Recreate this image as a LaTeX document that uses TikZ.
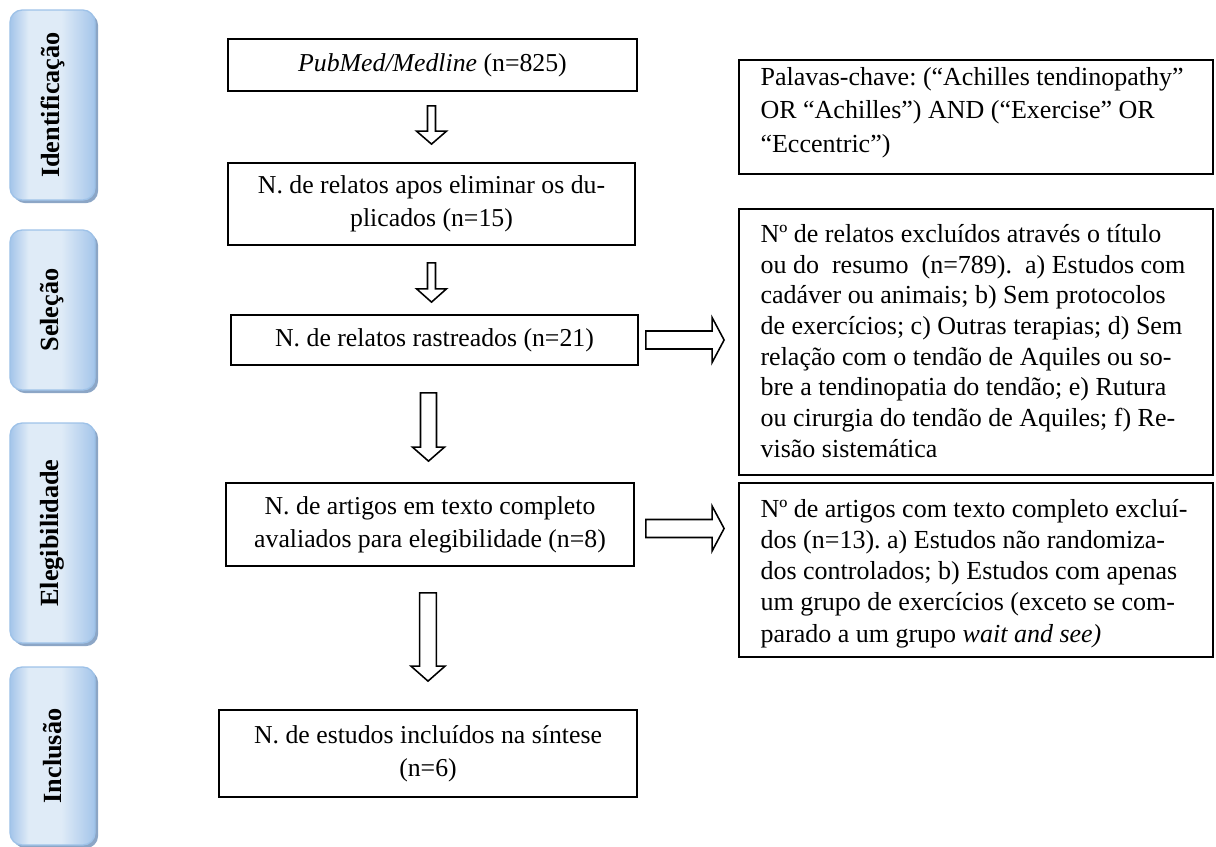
\documentclass[tikz,border=0pt]{standalone}
\usepackage{fontspec}
\setmainfont{Liberation Serif}
\usetikzlibrary{calc,shadows}
\definecolor{sa}{HTML}{A4C5EA}
\definecolor{sb}{HTML}{DFEBF7}
\definecolor{sbord}{HTML}{9EC2E8}
\definecolor{sshadow}{HTML}{8CA6C6}
\pgfdeclarehorizontalshading{sideshade}{100bp}{color(0bp)=(sa); color(25bp)=(sa); color(36bp)=(sb); color(55bp)=(sb); color(75bp)=(sa); color(100bp)=(sa)}
\newcommand\blockdown[5]{%
  \path[blockarrow] let \p1=#1, \p2=#2 in
    (\x1-#3,\y1) -- (\x1+#3,\y1) -- (\x1+#3,\y2+#5) -- (\x1+#4,\y2+#5) --
    (\x1,\y2) -- (\x1-#4,\y2+#5) -- (\x1-#3,\y2+#5) -- cycle;}
\newcommand\blockright[5]{%
  \path[blockarrow] let \p1=#1, \p2=#2 in
    (\x1,\y1+#3) -- (\x2-#5,\y1+#3) -- (\x2-#5,\y1+#4) -- (\x2,\y1) --
    (\x2-#5,\y1-#4) -- (\x2-#5,\y1-#3) -- (\x1,\y1-#3) -- cycle;}
\tikzset{
  mainbox/.style={draw=black, line width=0.8pt, fill=white, inner sep=0pt, align=center,
    font=\fontsize{11.6pt}{14.85pt}\selectfont\frenchspacing},
  exbox/.style={draw=black, line width=0.8pt, fill=white, inner sep=0pt, minimum width=213.3pt},
  extext/.style={anchor=north west, inner sep=0pt, align=left},
  sidebox/.style={draw=sbord, line width=0.6pt, rounded corners=5.5pt, shading=sideshade,
    minimum width=38.25pt, inner sep=0pt,
    drop shadow={shadow xshift=1.4pt, shadow yshift=-1.4pt, fill=sshadow, opacity=1}},
  sidetext/.style={rotate=90, inner sep=0pt, font=\fontsize{11.8pt}{14pt}\selectfont\bfseries},
  blockarrow/.style={draw=black, line width=0.7pt, fill=white, line join=miter}
}
\begin{document}
\begin{tikzpicture}[x=0.45pt,y=-0.45pt]
\useasboundingbox (0,0) rectangle (1216,846);
% side phase boxes
\node[sidebox, minimum height=85.5pt] (s1) at (52.5,105) {};
\node[sidebox, minimum height=72pt] (s2) at (52.5,310) {};
\node[sidebox, minimum height=99pt] (s3) at (52.5,533) {};
\node[sidebox, minimum height=80.1pt] (s4) at (52.5,756) {};
\node[sidetext] (t1) at (s1.center) {Identificação};
\node[sidetext] (t2) at (s2.center) {Seleção};
\node[sidetext] (t3) at (s3.center) {Elegibilidade};
\node[sidetext] (t4) at (s4.center) {Inclusão};
% main column
\node[mainbox, minimum width=184.05pt, minimum height=23.4pt] (b1) at (432.5,65)
  {\textit{PubMed/Medline} (n=825)};
\node[mainbox, minimum width=183.15pt, minimum height=36.9pt] (b2) at (431.5,204)
  {N. de relatos apos eliminar os du-\\plicados (n=15)};
\node[mainbox, minimum width=183.15pt, minimum height=22.5pt] (b3) at (434.5,340)
  {N. de relatos rastreados (n=21)};
\node[mainbox, minimum width=183.6pt, minimum height=37.35pt] (b4) at (430,524.5)
  {N. de artigos em texto completo\\avaliados para elegibilidade (n=8)};
\node[mainbox, minimum width=188.1pt, minimum height=39.15pt] (b5) at (428,753.5)
  {N. de estudos incluídos na síntese\\(n=6)};
% right column
\node[exbox, minimum height=51.3pt] (r1) at (976,117) {};
\node[exbox, minimum height=119.7pt] (r2) at (976,342) {};
\node[exbox, minimum height=78.3pt] (r3) at (976,570) {};
\node[extext, font=\fontsize{11.7pt}{15pt}\selectfont\frenchspacing] (r1t) at ($(r1.north west)+(22,8)$)
  {Palavas-chave: (“Achilles tendinopathy”\\OR “Achilles”) AND (“Exercise” OR\\“Eccentric”)};
\node[extext, font=\fontsize{11.7pt}{13.8pt}\selectfont\frenchspacing] (r2t) at ($(r2.north west)+(22,16)$)
  {Nº de relatos excluídos através o título\\
   ou do\ \ resumo\ \ (n=789).\ \ a) Estudos com\\
   cadáver ou animais; b) Sem protocolos\\
   de exercícios; c) Outras terapias; d) Sem\\
   relação com o tendão de Aquiles ou so-\\
   bre a tendinopatia do tendão; e) Rutura\\
   ou cirurgia do tendão de Aquiles; f) Re-\\
   visão sistemática};
\node[extext, font=\fontsize{11.7pt}{14pt}\selectfont\frenchspacing] (r3t) at ($(r3.north west)+(22,17)$)
  {Nº de artigos com texto completo excluí-\\
   dos (n=13). a) Estudos não randomiza-\\
   dos controlados; b) Estudos com apenas\\
   um grupo de exercícios (exceto se com-\\
   parado a um grupo \textit{wait and see)}};
% block arrows
\blockdown{($(b1.south)+(-1,14)$)}{($(b2.north)+(0,-18)$)}{1.8pt}{6.75pt}{5.85pt}
\blockdown{($(b2.south)+(0,17)$)}{($(b3.north)+(0,-12)$)}{1.8pt}{6.75pt}{6pt}
\blockdown{($(b3.south)+(-6,27)$)}{($(b4.north)+(0,-21)$)}{3.6pt}{7.2pt}{6.3pt}
\blockdown{($(b4.south)+(-2,26)$)}{($(b5.north)+(0,-28)$)}{3.8pt}{7.65pt}{6.75pt}
\blockright{($(b3.east)+(7,0)$)}{($(r2.west)+(-14,0)$)}{4.05pt}{10.1pt}{5.4pt}
\blockright{($(b4.east)+(11,4)$)}{($(r3.west)+(-14,0)$)}{4.05pt}{10.1pt}{5.4pt}
\end{tikzpicture}
\end{document}
